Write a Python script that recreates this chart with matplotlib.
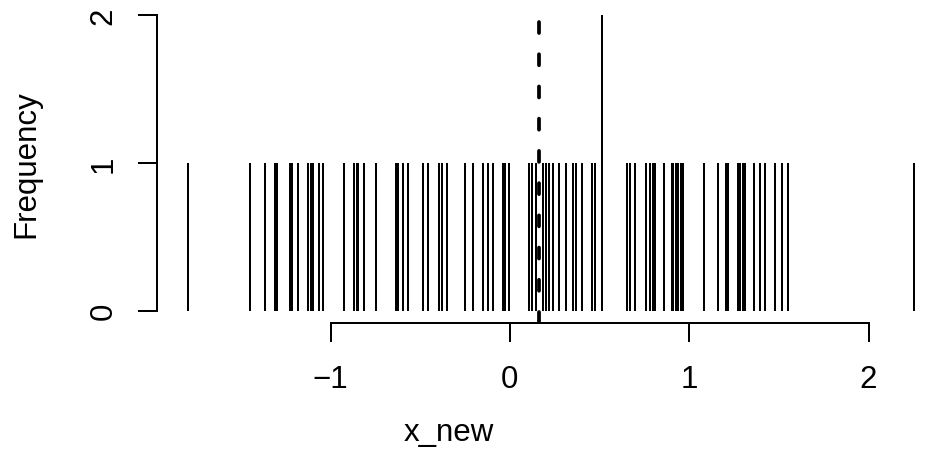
import numpy as np
import matplotlib.pyplot as plt

plt.rcParams['font.family'] = ['Liberation Sans', 'DejaVu Sans']
plt.rcParams['lines.scale_dashes'] = False

# distinct values of x_new and how often each one occurs
x_values = [-1.796, -1.451, -1.365, -1.309, -1.297, -1.226, -1.213, -1.180,
            -1.124, -1.110, -1.099, -1.064, -1.043, -0.926, -0.869, -0.855,
            -0.845, -0.813, -0.748, -0.635, -0.622, -0.597, -0.566, -0.486,
            -0.455, -0.393, -0.380, -0.349, -0.250, -0.207, -0.151, -0.120,
            -0.092, -0.040, -0.027, -0.003, 0.109, 0.122, 0.146, 0.183,
            0.202, 0.218, 0.242, 0.276, 0.312, 0.354, 0.369, 0.401,
            0.457, 0.475, 0.512, 0.652, 0.670, 0.698, 0.759, 0.784,
            0.796, 0.812, 0.861, 0.903, 0.912, 0.929, 0.939, 0.953,
            0.967, 1.083, 1.162, 1.205, 1.218, 1.274, 1.283, 1.299,
            1.311, 1.362, 1.396, 1.423, 1.479, 1.516, 1.553, 2.255]
counts = [1] * len(x_values)
counts[x_values.index(0.512)] = 2

mean_x = 0.163

x_ticks = [-1, 0, 1, 2]
x_ticklabels = ['\u22121', '0', '1', '2']
y_ticks = [0, 1, 2]

W, H = 937, 477
fs = 22.5
lw = 1.44

fig = plt.figure(figsize=(W / 100, H / 100), dpi=100)
ax = fig.add_axes([157 / W, (H - 323.5) / H, 1 - 157 / W, (323.5 - 4.5) / H])

# spikes, like plot(table(x), type = "h")
ax.vlines(x_values, 0, counts, color='black', linewidth=lw)
ax.axvline(mean_x, color='black', linewidth=2.7, dashes=(7.9, 15.3),
           dash_capstyle='round')

ax.set_xlim(-1.968, 2.382)
ax.set_ylim(-0.08, 2.08)

for side in ['top', 'right']:
    ax.spines[side].set_visible(False)
ax.spines['left'].set_bounds(0, 2)
ax.spines['bottom'].set_bounds(-1, 2)
ax.spines['left'].set_linewidth(lw)
ax.spines['bottom'].set_linewidth(lw)

ax.set_xticks(x_ticks)
ax.set_xticklabels(x_ticklabels)
ax.set_yticks(y_ticks)
ax.set_yticklabels([str(v) for v in y_ticks], rotation=90, va='center', ha='right')
ax.tick_params(axis='both', length=13.5, width=lw, labelsize=fs)
ax.tick_params(axis='x', pad=16.6)
ax.tick_params(axis='y', pad=14)

# axis titles
fig.text(449 / W, 1 - 441 / H, 'x_new', fontsize=fs, ha='center', va='baseline')
fig.text(26.5 / W, 1 - 164 / H, 'Frequency', fontsize=fs, rotation=90,
         ha='center', va='center')

fig.savefig('out.png', dpi=100)
